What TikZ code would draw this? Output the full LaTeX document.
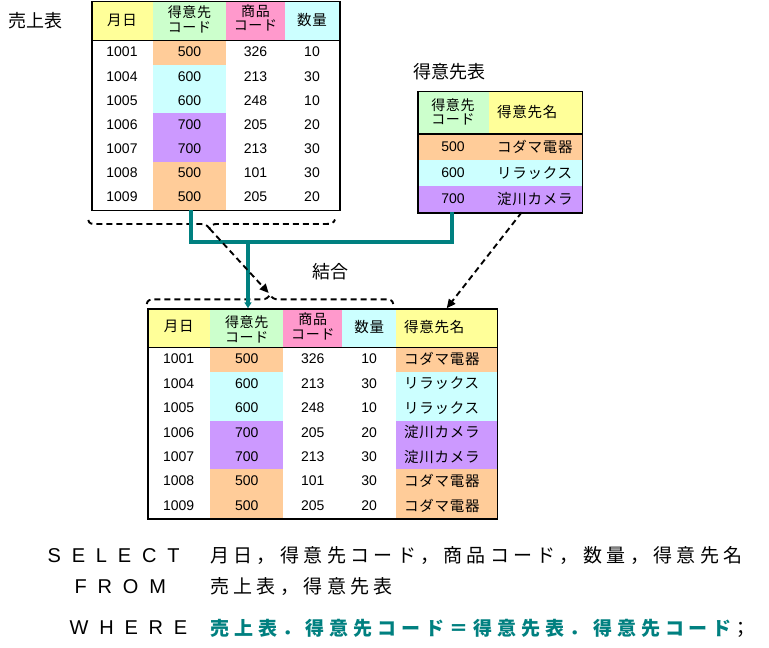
\documentclass[tikz,border=0pt]{standalone}
\usepackage{fontspec}
\usetikzlibrary{arrows.meta}
\setmainfont{Noto Sans CJK JP}
\newfontfamily\jpt{Noto Sans CJK JP}[LetterSpace=5]
\newfontfamily\jpsql{Noto Sans CJK JP}[LetterSpace=23]
\newfontfamily\jpsqlw{Noto Sans CJK JP}[LetterSpace=26]
\newfontfamily\jplbl{Noto Sans CJK JP}
\newfontfamily\numf{Liberation Sans}
\newfontfamily\kwf{Liberation Sans}[LetterSpace=54]
\definecolor{cyel}{HTML}{FFFF99}
\definecolor{cgrn}{HTML}{CCFFCC}
\definecolor{cpnk}{HTML}{FF99CC}
\definecolor{ccyn}{HTML}{CCFFFF}
\definecolor{corg}{HTML}{FFCC99}
\definecolor{cpur}{HTML}{CC99FF}
\definecolor{cteal}{HTML}{008080}
\begin{document}
\begin{tikzpicture}[x=1pt,y=-1pt,
  tbl/.style={draw=black,line width=1.2pt,inner sep=0pt,anchor=north west},
  hline/.style={draw=black,line width=1.2pt},
  num/.style={font=\numf\fontsize{14}{16}\selectfont,inner sep=0pt},
  jp/.style={font=\jpt\fontsize{14.5}{16}\selectfont,inner sep=0pt},
  hd/.style={font=\jpt\fontsize{14}{14.5}\selectfont,inner sep=0pt,align=center},
  lbl/.style={font=\jplbl\fontsize{18}{20}\selectfont,inner sep=0pt},
  kw/.style={font=\kwf\fontsize{20}{22}\selectfont,inner sep=0pt,anchor=west},
  sql/.style={font=\jpsql\fontsize{19}{21}\selectfont,inner sep=0pt,anchor=west},
  sqlw/.style={font=\jpsqlw\fontsize{19}{21}\selectfont,inner sep=0pt,anchor=west},
  tealline/.style={draw=cteal,line width=3.4pt},
  dsh/.style={draw=black,line width=1.9pt,dash pattern=on 6pt off 4pt},
  dar/.style={dsh,-{Triangle[length=9pt,width=8pt]}},
]
\useasboundingbox (0,0) rectangle (769,648);
\fill[white] (0,0) rectangle (769,648);

% ---------- header fills ----------
\fill[cyel] (91.3,1) rectangle (153,40.7);
\fill[cgrn] (153,1) rectangle (226,40.7);
\fill[cpnk] (226,1) rectangle (285,40.7);
\fill[ccyn] (285,1) rectangle (339.3,40.7);

\fill[cgrn] (417.3,90.7) rectangle (489.3,134);
\fill[cyel] (489.3,90.7) rectangle (581.7,134);
\fill[corg] (417.3,134) rectangle (581.7,160);
\fill[ccyn] (417.3,160) rectangle (581.7,186);
\fill[cpur] (417.3,186) rectangle (581.7,212.3);

\fill[cyel] (147.3,308.3) rectangle (210,347.3);
\fill[cgrn] (210,308.3) rectangle (283.3,347.3);
\fill[cpnk] (283.3,308.3) rectangle (342.3,347.3);
\fill[ccyn] (342.3,308.3) rectangle (396,347.3);
\fill[cyel] (396,308.3) rectangle (496.7,347.3);

% ---------- row fills and cell texts ----------
\foreach \d/\c/\p/\q/\n/\col [count=\i] in {
 1001/500/326/10/コダマ電器/corg,
 1004/600/213/30/リラックス/ccyn,
 1005/600/248/10/リラックス/ccyn,
 1006/700/205/20/淀川カメラ/cpur,
 1007/700/213/30/淀川カメラ/cpur,
 1008/500/101/30/コダマ電器/corg,
 1009/500/205/20/コダマ電器/corg}{
  \fill[\col] (153,{40.7+(\i-1)*24.19}) rectangle (226,{40.7+\i*24.19+0.3});
  \fill[\col] (210,{347.3+(\i-1)*24.43}) rectangle (283.3,{347.3+\i*24.43+0.3});
  \fill[\col] (396,{347.3+(\i-1)*24.43}) rectangle (496.7,{347.3+\i*24.43+0.3});
  \node[num] (a\i-1) at (122,{40.7+(\i-0.5)*24.19-0.8}) {\d};
  \node[num] (a\i-2) at (189.5,{40.7+(\i-0.5)*24.19-0.8}) {\c};
  \node[num] (a\i-3) at (255.5,{40.7+(\i-0.5)*24.19-0.8}) {\p};
  \node[num] (a\i-4) at (312,{40.7+(\i-0.5)*24.19-0.8}) {\q};
  \node[num] (c\i-1) at (178.7,{347.3+(\i-0.5)*24.43-0.5}) {\d};
  \node[num] (c\i-2) at (246.7,{347.3+(\i-0.5)*24.43-0.5}) {\c};
  \node[num] (c\i-3) at (312.8,{347.3+(\i-0.5)*24.43-0.5}) {\p};
  \node[num] (c\i-4) at (369.2,{347.3+(\i-0.5)*24.43-0.5}) {\q};
  \node[jp,anchor=west] (c\i-5) at (404,{347.3+(\i-0.5)*24.43-0.5}) {\n};
}

% ---------- table frames ----------
\node[tbl,minimum width=248pt,minimum height=209pt] (T1) at (91.3,1) {};
\draw[hline] (91.3,40.7) -- (339.3,40.7);
\node[tbl,minimum width=164.4pt,minimum height=121.6pt] (T2) at (417.3,90.7) {};
\draw[hline] (417.3,134) -- (581.7,134);
\node[tbl,minimum width=349.4pt,minimum height=210pt] (T3) at (147.3,308.3) {};
\draw[hline] (147.3,347.3) -- (496.7,347.3);

% ---------- headers ----------
\node[jp] (h1-1) at (122,20) {月日};
\node[hd] (h1-2) at (189.5,19.2) {得意先\\コード};
\node[hd] (h1-3) at (255.5,18) {商品\\コード};
\node[jp] (h1-4) at (312,20) {数量};

\node[hd] (h2-1) at (453,111.7) {得意先\\コード};
\node[jp,anchor=west] (h2-2) at (497,111.7) {得意先名};
\node[num] (b1-1) at (453,147) {500};
\node[num] (b2-1) at (453,173) {600};
\node[num] (b3-1) at (453,199) {700};
\node[jp,anchor=west] (b1-2) at (497,147) {コダマ電器};
\node[jp,anchor=west] (b2-2) at (497,173) {リラックス};
\node[jp,anchor=west] (b3-2) at (497,199) {淀川カメラ};

\node[jp] (h3-1) at (178.7,326.7) {月日};
\node[hd] (h3-2) at (246.7,329.5) {得意先\\コード};
\node[hd] (h3-3) at (312.8,326.5) {商品\\コード};
\node[jp] (h3-4) at (369.2,327) {数量};
\node[jp,anchor=west] (h3-5) at (404,327) {得意先名};

% ---------- labels ----------
\node[lbl] (L1) at (35.5,20.7) {売上表};
\node[lbl] (L2) at (449.5,71.7) {得意先表};
\node[lbl] (L3) at (330,271.7) {結合};

% ---------- braces ----------
\coordinate (b1) at (209.5,228.5);
\coordinate (b2) at (270,294.5);
\draw[dsh] (88.3,220) .. controls (89,224) and (92,224) .. (97,224) -- (201,224)
  .. controls (205,224) and (207,225) .. (b1)
  .. controls (211,225) and (213,224) .. (217,224) -- (326,224)
  .. controls (331,224) and (334,223) .. (335,219.5);
\draw[dsh] (146.7,304) .. controls (147.5,300) and (150,299.3) .. (155,299.3) -- (262,299.3)
  .. controls (266,299.3) and (268,298) .. (b2)
  .. controls (272,298) and (274,299.3) .. (278,299.3) -- (385,299.3)
  .. controls (390,299.3) and (392.5,300) .. (393.3,304);

% ---------- connectors ----------
\coordinate (t1k) at (191,210);
\coordinate (t2k) at (452,212.3);
\coordinate (jn) at (248,242);
\coordinate (t3k) at (248,308.3);
\draw[tealline] (t1k) |- (jn) -| (t2k);
\draw[tealline,-{Triangle[length=6pt,width=7pt]}] (jn) -- (t3k);

\draw[dar,shorten >=2pt] (b1) -- (b2);
\coordinate (t2d) at (521.7,212.3);
\coordinate (t3d) at (446.7,308.3);
\draw[dar] (t2d) -- (t3d);

% ---------- SQL ----------
\node[kw] (sel) at (47.5,556) {SELECT};
\node[kw] (frm) at (74.5,586.5) {FROM};
\node[kw] (whr) at (69.5,628) {WHERE};
\node[sql] (selx) at (210,556) {月日，得意先コード，商品コード，数量，得意先名};
\node[sql] (frmx) at (210,586.5) {売上表，得意先表};
\node[sqlw] (whrx) at (210,628) {\textcolor{cteal}{\bfseries 売上表．得意先コード＝得意先表．得意先コード}；};
\end{tikzpicture}
\end{document}
